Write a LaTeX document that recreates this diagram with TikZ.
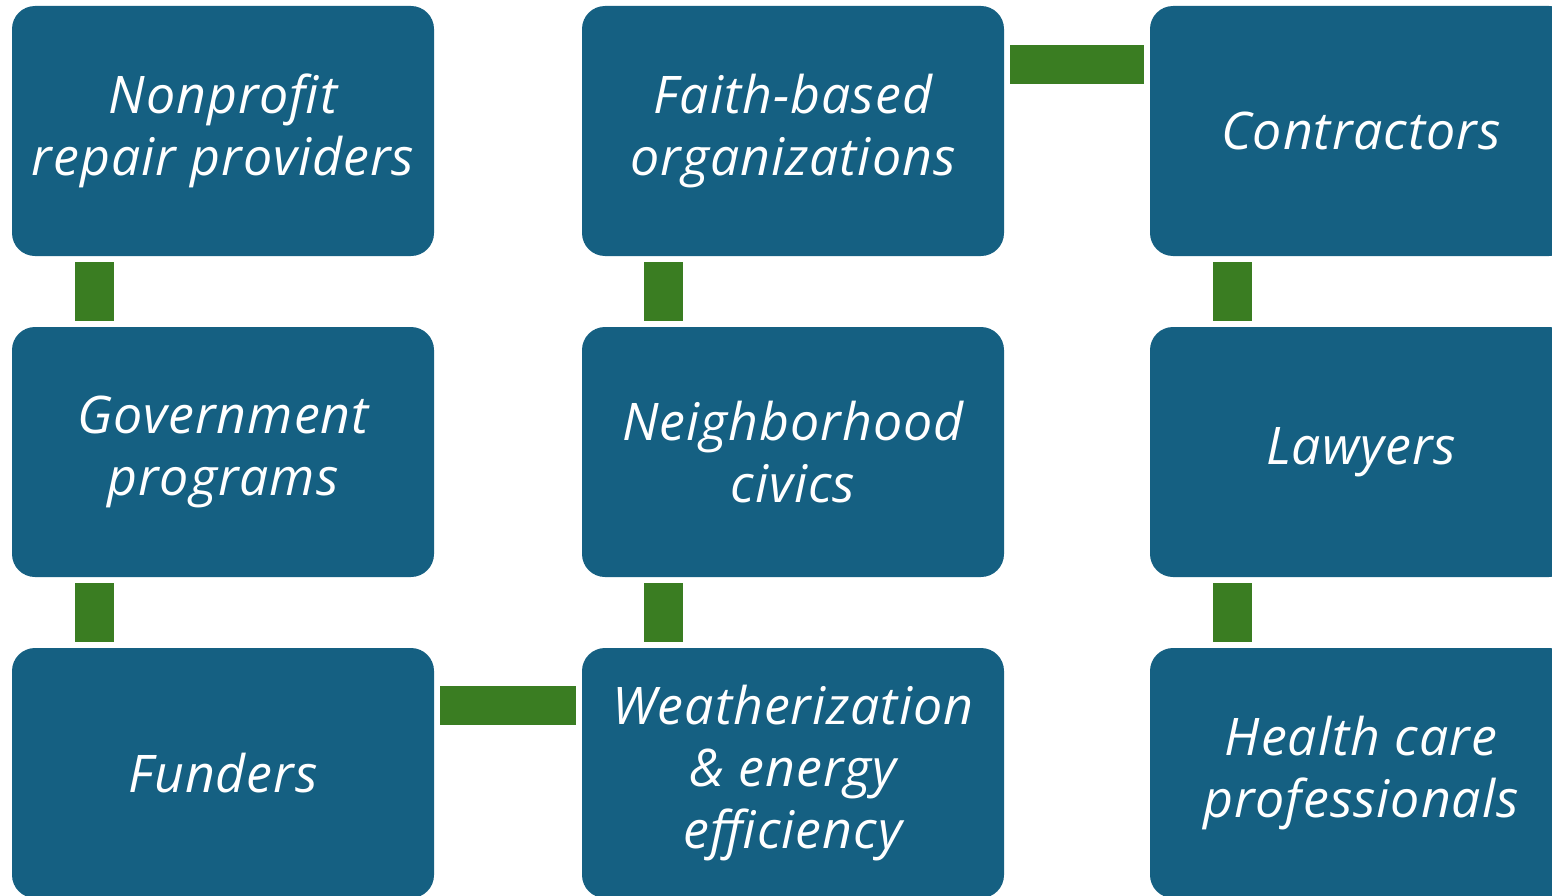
\documentclass[tikz,border=0pt]{standalone}
\usepackage{fontspec}
\setmainfont{Open Sans}[LetterSpace=2]
\usetikzlibrary{positioning,calc}

\definecolor{groupBlue}{HTML}{156082}
\definecolor{linkGreen}{HTML}{3A7D22}

\begin{document}
\begin{tikzpicture}[font=\fontsize{29.5}{35.3}\selectfont\itshape]
  \tikzset{
    group/.style={
      rounded corners=0.46cm,
      fill=groupBlue,
      text=white,
      align=center,
      inner sep=0pt,
      minimum width=8.44cm,
      minimum height=5cm
    },
    link/.style={
      draw=linkGreen,
      line width=0.77cm,
      shorten <=0.12cm,
      shorten >=0.12cm
    }
  }

  \useasboundingbox (0,0) rectangle (31.04,-17.9);

  \node[group] (nonprofit) at (4.46,-2.62) {Nonprofit\\repair providers};
  \node[group] (faithBased) at (15.86,-2.62) {Faith-based\\organizations};
  \node[group] (contractors) at (27.22,-2.62) {Contractors};

  \node[group] (government) at (4.46,-9.04) {Government\\programs};
  \node[group] (civics) at (15.86,-9.04) {Neighborhood\\civics};
  \node[group] (lawyers) at (27.22,-9.04) {Lawyers};

  \node[group] (funders) at (4.46,-15.46) {Funders};
  \node[group] (weatherization) at (15.86,-15.46) {Weatherization\\\& energy\\efficiency};
  \node[group] (healthCare) at (27.22,-15.46) {Health care\\professionals};

  \draw[link] ([xshift=1.66cm]nonprofit.south west) -- ([xshift=1.66cm]government.north west);
  \draw[link] ([xshift=1.66cm]government.south west) -- ([xshift=1.66cm]funders.north west);
  \draw[link] ([xshift=1.64cm]faithBased.south west) -- ([xshift=1.64cm]civics.north west);
  \draw[link] ([xshift=1.64cm]civics.south west) -- ([xshift=1.64cm]weatherization.north west);
  \draw[link] ([xshift=1.66cm]contractors.south west) -- ([xshift=1.66cm]lawyers.north west);
  \draw[link] ([xshift=1.66cm]lawyers.south west) -- ([xshift=1.66cm]healthCare.north west);
  \draw[link] ([yshift=-1.18cm]faithBased.north east) -- ([yshift=-1.18cm]contractors.north west);
  \draw[link] ([yshift=-1.16cm]funders.north east) -- ([yshift=-1.16cm]weatherization.north west);
\end{tikzpicture}
\end{document}
